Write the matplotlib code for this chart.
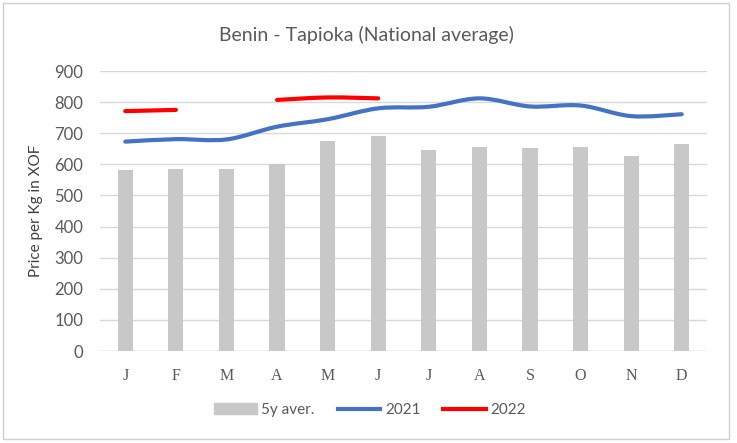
import numpy as np
import matplotlib
matplotlib.use("Agg")
import matplotlib.pyplot as plt
from matplotlib.path import Path
from matplotlib.patches import PathPatch, Rectangle
from matplotlib.lines import Line2D

months = ["J", "F", "M", "A", "M", "J", "J", "A", "S", "O", "N", "D"]
avg5y = [582, 585, 585, 600, 675, 692, 646, 655, 651, 655, 627, 664]
y2021 = [673, 681, 680, 721, 745, 780, 785, 812, 786, 789, 755, 761]
y2022 = [771, 775, np.nan, 807, 815, 812, np.nan, np.nan, np.nan, np.nan, np.nan, np.nan]
yticks = list(range(0, 1000, 100))

GREY = "#595959"
FONT = "Lato"


def smooth_path(xs, ys):
    """Catmull-Rom style bezier path (Excel 'smoothed line')."""
    verts = [(xs[0], ys[0])]
    codes = [Path.MOVETO]
    n = len(xs)
    for i in range(n - 1):
        p0 = (xs[i - 1], ys[i - 1]) if i > 0 else (xs[i], ys[i])
        p1 = (xs[i], ys[i])
        p2 = (xs[i + 1], ys[i + 1])
        p3 = (xs[i + 2], ys[i + 2]) if i + 2 < n else p2
        t = 1 / 6
        c1 = (p1[0] + (p2[0] - p0[0]) * t, p1[1] + (p2[1] - p0[1]) * t)
        c2 = (p2[0] - (p3[0] - p1[0]) * t, p2[1] - (p3[1] - p1[1]) * t)
        verts += [c1, c2, p2]
        codes += [Path.CURVE4] * 3
    return Path(verts, codes)


def add_smooth(ax, vals, color):
    x = np.arange(len(vals))
    v = np.array(vals, dtype=float)
    seg = []
    for i in range(len(v) + 1):
        if i < len(v) and not np.isnan(v[i]):
            seg.append(i)
        else:
            if len(seg) > 1:
                p = smooth_path(list(x[seg]), list(v[seg]))
                ax.add_patch(PathPatch(p, fill=False, edgecolor=color, lw=3,
                                       capstyle="round", zorder=3))
            seg = []


fig = plt.figure(figsize=(7.37, 4.43), dpi=100)
ax = fig.add_axes([100 / 737, 92 / 443, 607 / 737, 280 / 443])

x = np.arange(len(months))
ax.bar(x, avg5y, width=0.3, color="#c8c8c8", zorder=2)
add_smooth(ax, y2021, "#4472c4")
add_smooth(ax, y2022, "#ff0000")

ax.set_xlim(-0.5, 11.5)
ax.set_ylim(0, 900)
ax.set_yticks(yticks)
ax.set_yticklabels([str(t) for t in yticks], fontfamily=FONT, fontsize=12, color=GREY)
ax.set_xticks(x)
ax.set_xticklabels(months, fontfamily="Liberation Serif", fontsize=11.5, color=GREY)
ax.tick_params(axis="both", length=0)
ax.tick_params(axis="y", pad=12)
ax.tick_params(axis="x", pad=12)
ax.grid(axis="y", color="#d9d9d9", lw=1, zorder=0)
for s in ax.spines.values():
    s.set_visible(False)
ax.axhline(0, color="#d9d9d9", lw=1, zorder=1)

ax.set_ylabel("Price per Kg in XOF", fontfamily=FONT, fontsize=11, color="#404040", labelpad=8)
fig.text(366 / 737, 1 - 35 / 443, "Benin - Tapioka (National average)", ha="center", va="center",
         fontfamily=FONT, fontsize=14, color=GREY)

handles = [Rectangle((0, 0), 1, 1, color="#c8c8c8"),
           Line2D([], [], color="#4472c4", lw=3),
           Line2D([], [], color="#ff0000", lw=3)]
leg = fig.legend(handles, ["5y aver.", "2021", "2022"], loc="center", bbox_to_anchor=(370 / 737, 1 - 410 / 443),
                 ncol=3, frameon=False, prop={"family": FONT, "size": 11}, handlelength=2.8,
                 handletextpad=0.3, columnspacing=1.5)
for t in leg.get_texts():
    t.set_color(GREY)

fig.patches.append(Rectangle((3 / 737, 4 / 443), 726 / 737, 436 / 443, transform=fig.transFigure,
                             fill=False, edgecolor="#d0d0d0", lw=1))

fig.savefig("out.png", dpi=100)
